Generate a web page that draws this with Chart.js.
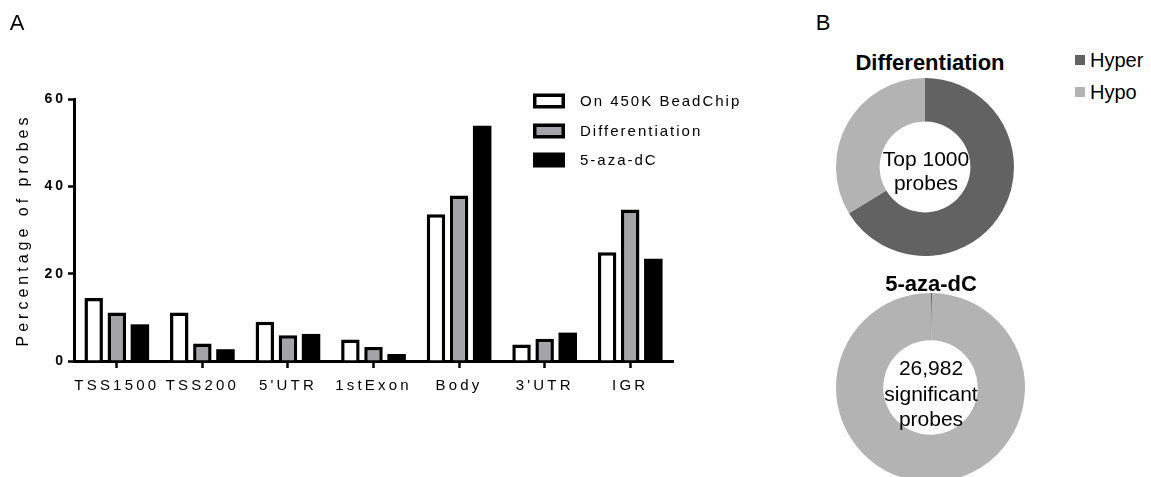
<!DOCTYPE html>
<html><head><meta charset="utf-8">
<script src="https://cdn.jsdelivr.net/npm/chart.js@4.4.0/dist/chart.umd.min.js"></script>
<style>
html,body{margin:0;padding:0;background:#fff;width:1151px;height:477px;overflow:hidden;position:relative;font-family:"Liberation Sans",Arial,sans-serif;}
canvas{position:absolute;}
.t{position:absolute;transform:translate(-50%,-50%);white-space:nowrap;color:#000;line-height:1;}
.lg{position:absolute;white-space:nowrap;color:#000;font-size:20px;line-height:1;transform:translateY(-50%);}
.sq{position:absolute;width:10px;height:10px;}
</style></head><body>
<canvas id="bar" width="800" height="477" style="left:0;top:0"></canvas>
<canvas id="d1" width="178" height="178" style="left:836px;top:78px"></canvas>
<canvas id="d2" width="189" height="189" style="left:836px;top:293px"></canvas>

<div class="t" style="left:17px;top:23px;font-size:22px">A</div>
<div class="t" style="left:823px;top:23px;font-size:22px">B</div>
<div class="t" style="left:930px;top:63px;font-size:22px;font-weight:bold">Differentiation</div>
<div class="t" style="left:931px;top:284px;font-size:22px;font-weight:bold">5-aza-dC</div>
<div class="t" style="left:926px;top:158px;font-size:21px">Top 1000</div>
<div class="t" style="left:926px;top:182px;font-size:21px">probes</div>
<div class="t" style="left:931px;top:367px;font-size:21px">26,982</div>
<div class="t" style="left:931px;top:393px;font-size:21px">significant</div>
<div class="t" style="left:931px;top:418px;font-size:21px">probes</div>
<div id="dlegend"></div>

<script>
// ---- data ----
const categories = ['TSS1500', 'TSS200', "5'UTR", '1stExon', 'Body', "3'UTR", 'IGR'];
const seriesNames = ['On 450K BeadChip', 'Differentiation', '5-aza-dC'];
const onChip = [14.4, 11.1, 9.0, 4.9, 33.6, 3.8, 24.9];
const differentiationPct = [11.1, 4.0, 5.9, 3.2, 37.9, 5.1, 34.7];
const azaPct = [8.4, 2.7, 6.2, 1.6, 53.9, 6.5, 23.4];
const yTicks = [0, 20, 40, 60];
const donutLabels = ['Hyper', 'Hypo'];
const diffDonut = [663, 337];
const azaDonut = [70, 26912];

const FONT = '"Liberation Sans", Arial, sans-serif';
const barColors = ['#ffffff', '#a4a3a8', '#000000'];
const barBorders = [3.5, 3.5, 0];
const donutColors = ['#626262', '#b3b3b3'];

// letter spacing per scale part
const spacing = { x: { labels: '3.2px', title: '0px' }, y: { labels: '3px', title: '4px' } };
const spacingPlugin = {
  id: 'spacing',
  afterLayout(chart) {
    for (const id of ['x', 'y']) {
      const s = chart.scales[id];
      if (!s || s._spWrapped) continue;
      const oL = s.drawLabels, oT = s.drawTitle;
      s.drawLabels = function (a) { const c = this.ctx; const p = c.letterSpacing; c.letterSpacing = spacing[id].labels; oL.call(this, a); c.letterSpacing = p; };
      s.drawTitle = function (a) { const c = this.ctx; const p = c.letterSpacing; c.letterSpacing = spacing[id].title; oT.call(this, a); c.letterSpacing = p; };
      s._spWrapped = true;
    }
  }
};

const legendPlugin = {
  id: 'barLegend',
  afterDraw(chart) {
    const ctx = chart.ctx;
    const rows = [101, 131, 160];
    ctx.save();
    ctx.letterSpacing = '2px';
    ctx.font = '15px ' + FONT;
    ctx.textBaseline = 'middle';
    ctx.textAlign = 'left';
    chart.data.datasets.forEach((ds, i) => {
      const x = 533, y = rows[i] - 7.5, w = 32, h = 15, b = 3.5;
      ctx.fillStyle = '#000';
      ctx.fillRect(x, y, w, h);
      ctx.fillStyle = ds.backgroundColor;
      ctx.fillRect(x + b, y + b, w - 2 * b, h - 2 * b);
      ctx.fillStyle = '#000';
      ctx.fillText(ds.label, 580, rows[i] + 0.5);
    });
    ctx.restore();
  }
};

new Chart(document.getElementById('bar'), {
  type: 'bar',
  data: {
    labels: categories,
    datasets: [onChip, differentiationPct, azaPct].map((d, i) => ({
      label: seriesNames[i],
      data: d,
      backgroundColor: barColors[i],
      borderColor: '#000',
      borderWidth: barBorders[i],
      borderSkipped: 'bottom',
      categoryPercentage: 0.81,
      barPercentage: 0.8
    }))
  },
  options: {
    responsive: false,
    animation: false,
    layout: { padding: { left: 0, right: 127, top: 99, bottom: 76 } },
    plugins: { legend: { display: false }, tooltip: { enabled: false } },
    scales: {
      x: {
        offset: true,
        grid: { offset: false, drawOnChartArea: false, drawTicks: true, tickLength: 7, tickWidth: 2.5, tickColor: '#000' },
        border: { display: true, color: '#000', width: 3 },
        ticks: { color: '#000', font: { family: FONT, size: 15 }, padding: 9, maxRotation: 0, autoSkip: false },
        afterFit(s) { s.height = 40; }
      },
      y: {
        min: 0, max: 60,
        afterBuildTicks(s) { s.ticks = yTicks.map(v => ({ value: v })); },
        grid: { drawOnChartArea: false, drawTicks: true, tickLength: 6, tickWidth: 2.5, tickColor: '#000' },
        border: { display: true, color: '#000', width: 3 },
        ticks: { color: '#000', font: { family: FONT, size: 14, weight: 'bold' }, padding: 2 },
        title: { display: true, text: 'Percentage of probes', color: '#000', font: { family: FONT, size: 16 }, padding: { top: 14, bottom: 0 } },
        afterFit(s) { s.width = 74; }
      }
    }
  },
  plugins: [spacingPlugin, legendPlugin]
});

function donut(id, values, cut) {
  new Chart(document.getElementById(id), {
    type: 'doughnut',
    data: { labels: donutLabels, datasets: [{ data: values, backgroundColor: donutColors, borderWidth: 0 }] },
    options: {
      responsive: false, animation: false, cutout: cut,
      layout: { padding: 0 },
      plugins: { legend: { display: false }, tooltip: { enabled: false } }
    }
  });
}
donut('d1', diffDonut, '51%');
donut('d2', azaDonut, '50%');

// donut legend (HTML text)
const lg = document.getElementById('dlegend');
const lgRows = [60, 92];
donutLabels.forEach((name, i) => {
  const sq = document.createElement('div');
  sq.className = 'sq';
  sq.style.left = '1075px'; sq.style.top = (lgRows[i] - 5) + 'px';
  sq.style.background = donutColors[i];
  lg.appendChild(sq);
  const t = document.createElement('div');
  t.className = 'lg';
  t.style.left = '1090px'; t.style.top = lgRows[i] + 'px';
  t.textContent = name;
  lg.appendChild(t);
});
</script>
</body></html>
